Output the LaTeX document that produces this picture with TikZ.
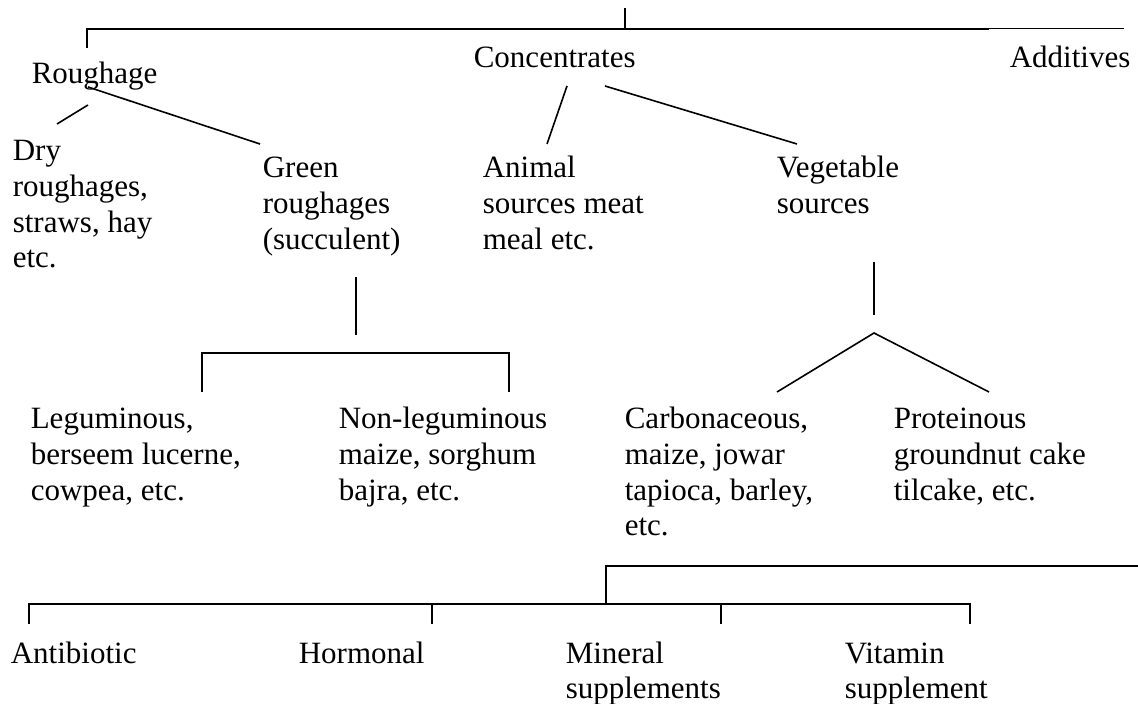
\documentclass[tikz,border=0pt]{standalone}
\usepackage{fontspec}
\setmainfont{Liberation Serif}
\newcommand{\rows}[1]{\begin{tabular}[t]{@{}l@{}}#1\end{tabular}}
\tikzset{
  feed/.style={anchor=base west, inner sep=0pt,
    font=\fontsize{15.5}{17.8}\selectfont},
}
\begin{document}
\begin{tikzpicture}[x=0.5pt, y=-0.5pt, line width=0.8pt]
    \useasboundingbox (0,0) rectangle (1138,704);

    % first level
    \coordinate (T) at (625,8);
    \coordinate (T1) at (625,29);
    \coordinate (L1) at (87,29);
    \coordinate (L2) at (87,48);
    \coordinate (R1) at (989,29);
    \coordinate (R2) at (1124,29);

    \node[feed] (rough) at (31,84) {Roughage};
    \node[feed] (conc) at (473,68) {Concentrates};
    \node[feed] (add) at (1009,68) {Additives};

    \draw (T) -- (T1);
    \draw (L2) -- (L1) -- (R1);
    \draw[line width=0.5pt] (R1) -- (R2);

    % second level
    \node[feed] (dry) at (12,161) {\rows{Dry\\roughages,\\straws, hay\\etc.}};
    \node[feed] (green) at (262,178) {\rows{Green\\roughages\\(succulent)}};
    \node[feed] (animal) at (482,178) {\rows{Animal\\sources meat\\meal etc.}};
    \node[feed] (veg) at (776,178) {\rows{Vegetable\\sources}};

    \coordinate (D1) at (88,105);
    \coordinate (D2) at (57,124);
    \coordinate (G1) at (88,87);
    \coordinate (G2) at (260,144);
    \coordinate (A1) at (567,86);
    \coordinate (A2) at (547,144);
    \coordinate (V1) at (605,86);
    \coordinate (V2) at (797,144);

    \draw (D1) -- (D2);
    \draw (G1) -- (G2);
    \draw (A1) -- (A2);
    \draw (V1) -- (V2);

    % green roughages
    \coordinate (g1) at (356,277);
    \coordinate (g2) at (356,335);
    \coordinate (gl) at (202,353);
    \coordinate (gr) at (509,353);
    \coordinate (gl1) at (202,392);
    \coordinate (gr1) at (509,392);

    \draw (g1) -- (g2);
    \draw (gl1) -- (gl) -- (gr) -- (gr1);

    \node[feed] (legum) at (30,429) {\rows{Leguminous,\\berseem lucerne,\\cowpea, etc.}};
    \node[feed] (nonleg) at (338,429) {\rows{Non-leguminous\\maize, sorghum\\bajra, etc.}};

    % vegetable sources
    \coordinate (v1) at (874,262);
    \coordinate (v2) at (874,315);
    \coordinate (P) at (874,333);
    \coordinate (vl) at (777,392);
    \coordinate (vr) at (989,392);

    \draw (v1) -- (v2);
    \draw (vl) -- (P) -- (vr);

    \node[feed] (carb) at (624,429) {\rows{Carbonaceous,\\maize, jowar\\tapioca, barley,\\etc.}};
    \node[feed] (prot) at (893,429) {\rows{Proteinous\\groundnut cake\\tilcake, etc.}};

    % additives
    \coordinate (E) at (1138,566);
    \coordinate (M) at (606,566);
    \coordinate (M1) at (606,604);
    \coordinate (B1) at (29,604);
    \coordinate (B2) at (432,604);
    \coordinate (B3) at (721,604);
    \coordinate (B4) at (970,604);

    \draw (E) -- (M) -- (M1);
    \draw ([yshift=-10pt]B1) -- (B1) -- (B4) -- ([yshift=-10pt]B4);
    \draw (B2) -- ([yshift=-10pt]B2);
    \draw (B3) -- ([yshift=-10pt]B3);

    \node[feed] (anti) at (10,663) {Antibiotic};
    \node[feed] (horm) at (298,663) {Hormonal};
    \node[feed] (min) at (565,663) {\rows{Mineral\\supplements}};
    \node[feed] (vit) at (844,663) {\rows{Vitamin\\supplement}};
\end{tikzpicture}
\end{document}
